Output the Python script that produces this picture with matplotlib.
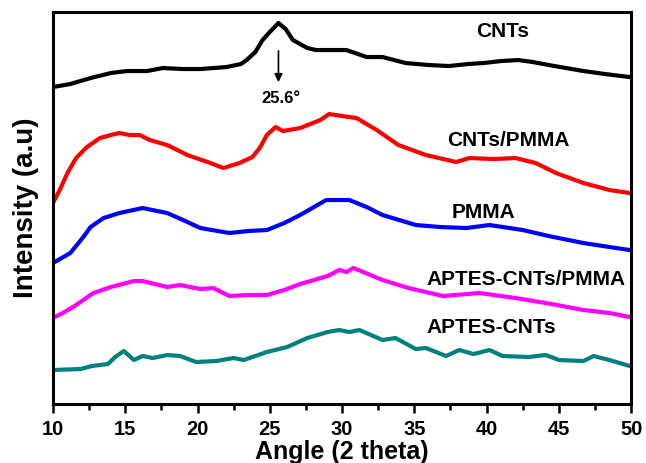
import numpy as np
import matplotlib.pyplot as plt
from matplotlib.ticker import MultipleLocator, NullLocator

plt.rcParams['font.family'] = ['Liberation Sans', 'DejaVu Sans']
plt.rcParams['font.weight'] = 'bold'

# XRD patterns, stacked (intensity in arbitrary units, offsets included)
cnts_angle = [10, 11.2, 12.6, 14, 15.1, 16.5, 17.6, 19, 20.2, 22.0, 23.0, 23.4, 24.0, 24.5,
              25.0, 25.6, 26.1, 26.6, 27.1, 27.6, 28.2, 29.0, 30.3, 31.7, 32.8, 34.4,
              36.0, 37.4, 38.7, 39.8, 41.0, 42.2, 43.2, 44.3, 45.5, 46.7, 48.2, 49.9]
cnts_int = [317, 320, 326, 331, 333, 333, 336, 335, 335, 337, 340, 344, 352, 364,
            372, 381, 375, 364, 360, 356, 354, 354, 354, 347, 347, 341,
            339, 338, 340, 341, 343, 344, 342, 339, 336, 333, 330, 327]

cnts_pmma_angle = [10, 10.5, 11.0, 11.6, 12.35, 13.25, 14.0, 14.6, 15.3, 16.0, 16.7, 17.9,
                   19.3, 20.7, 21.8, 22.9, 23.8, 24.3, 24.8, 25.4, 25.9, 27.1, 28.5, 29.1,
                   30.0, 31.0, 32.4, 33.9, 35.8, 37.9, 38.8, 40.5, 42.0, 43.4, 44.8, 46.7,
                   48.5, 49.9]
cnts_pmma_int = [201, 215, 231, 246, 257, 266, 269, 271, 269, 269, 264, 259,
                 249, 242, 236, 241, 247, 256, 269, 277, 273, 276, 284, 290,
                 288, 286, 274, 259, 249, 242, 246, 245, 246, 241, 231, 221,
                 214, 211]

pmma_angle = [10, 11.2, 12.1, 12.6, 13.5, 14.6, 16.2, 17.9, 19.0, 20.2, 22.2, 23.5,
              24.8, 26.0, 27.1, 28.9, 30.5, 31.7, 32.8, 35.1, 36.8, 38.6, 40.2, 42.5,
              44.3, 46.7, 48.5, 49.9]
pmma_int = [141, 151, 167, 177, 186, 191, 196, 191, 184, 176, 171, 173,
            174, 181, 189, 204, 204, 197, 189, 179, 177, 176, 179, 174,
            168, 161, 157, 154]

aptes_pmma_angle = [10, 10.8, 11.6, 12.8, 14.0, 15.6, 16.2, 17.9, 18.8, 20.2, 21.1, 22.2,
                    23.5, 24.8, 26.0, 27.1, 29.0, 29.8, 30.3, 30.8, 31.8, 32.8, 34.6, 37.0,
                    39.5, 42.0, 44.5, 46.7, 48.5, 49.9]
aptes_pmma_int = [86, 92, 99, 111, 117, 123, 123, 117, 119, 115, 116, 108,
                  109, 109, 114, 120, 128, 134, 132, 136, 130, 124, 116, 108,
                  111, 106, 100, 94, 91, 87]

aptes_angle = [10, 11.9, 12.7, 13.8, 14.3, 14.9, 15.6, 16.2, 16.9, 17.9, 18.8, 19.9,
               21.3, 22.5, 23.2, 24.8, 26.2, 27.6, 29.0, 29.8, 30.5, 31.2, 32.8, 33.7,
               35.1, 35.8, 37.2, 38.1, 39.1, 40.2, 41.1, 42.9, 44.1, 45.0, 46.7, 47.4,
               48.5, 49.9]
aptes_int = [34, 35, 38, 40, 47, 53, 44, 48, 46, 49, 48, 42,
             43, 46, 44, 52, 57, 66, 72, 74, 72, 74, 64, 66,
             55, 56, 48, 54, 50, 54, 48, 47, 49, 44, 43, 48,
             44, 38]

series = [
    (cnts_angle, cnts_int, 'black', 'CNTs', (41.1, 373)),
    (cnts_pmma_angle, cnts_pmma_int, '#ff0000', 'CNTs/PMMA', (41.5, 264)),
    (pmma_angle, pmma_int, '#0000ff', 'PMMA', (39.8, 192)),
    (aptes_pmma_angle, aptes_pmma_int, '#ff00ff', 'APTES-CNTs/PMMA', (42.7, 125)),
    (aptes_angle, aptes_int, '#008080', 'APTES-CNTs', (40.3, 77)),
]

fig = plt.figure(figsize=(6.46, 4.63), dpi=100)
ax = fig.add_axes([0.082, 0.1274, 0.895, 0.8466])

for angle, inten, color, name, pos in series:
    ax.plot(angle, inten, color=color, lw=3)
    ax.text(pos[0], pos[1], name, ha='center', va='center', fontsize=15, fontweight='bold')

# peak marker for the graphitic reflection
ax.annotate('', xy=(25.6, 319), xytext=(25.6, 356),
            arrowprops=dict(arrowstyle='-|>', color='black', lw=1.2, mutation_scale=12))
ax.text(25.8, 306, '25.6°', ha='center', va='center', fontsize=12, fontweight='bold')

ax.set_xlim(10, 50)
ax.set_ylim(0, 392)
ax.xaxis.set_major_locator(MultipleLocator(5))
ax.xaxis.set_minor_locator(MultipleLocator(2.5))
ax.yaxis.set_major_locator(NullLocator())
ax.tick_params(axis='x', which='major', direction='out', length=6.5, width=1.8,
               labelsize=14.5, pad=5)
ax.tick_params(axis='x', which='minor', direction='out', length=4.3, width=1.8)
for lbl in ax.get_xticklabels():
    lbl.set_fontweight('bold')
for sp in ax.spines.values():
    sp.set_linewidth(2.2)

ax.set_xlabel('Angle (2 theta)', fontsize=18, fontweight='bold', labelpad=1)
ax.set_ylabel('Intensity (a.u)', fontsize=20, fontweight='bold', labelpad=10)

fig.savefig('out.png', dpi=100)
